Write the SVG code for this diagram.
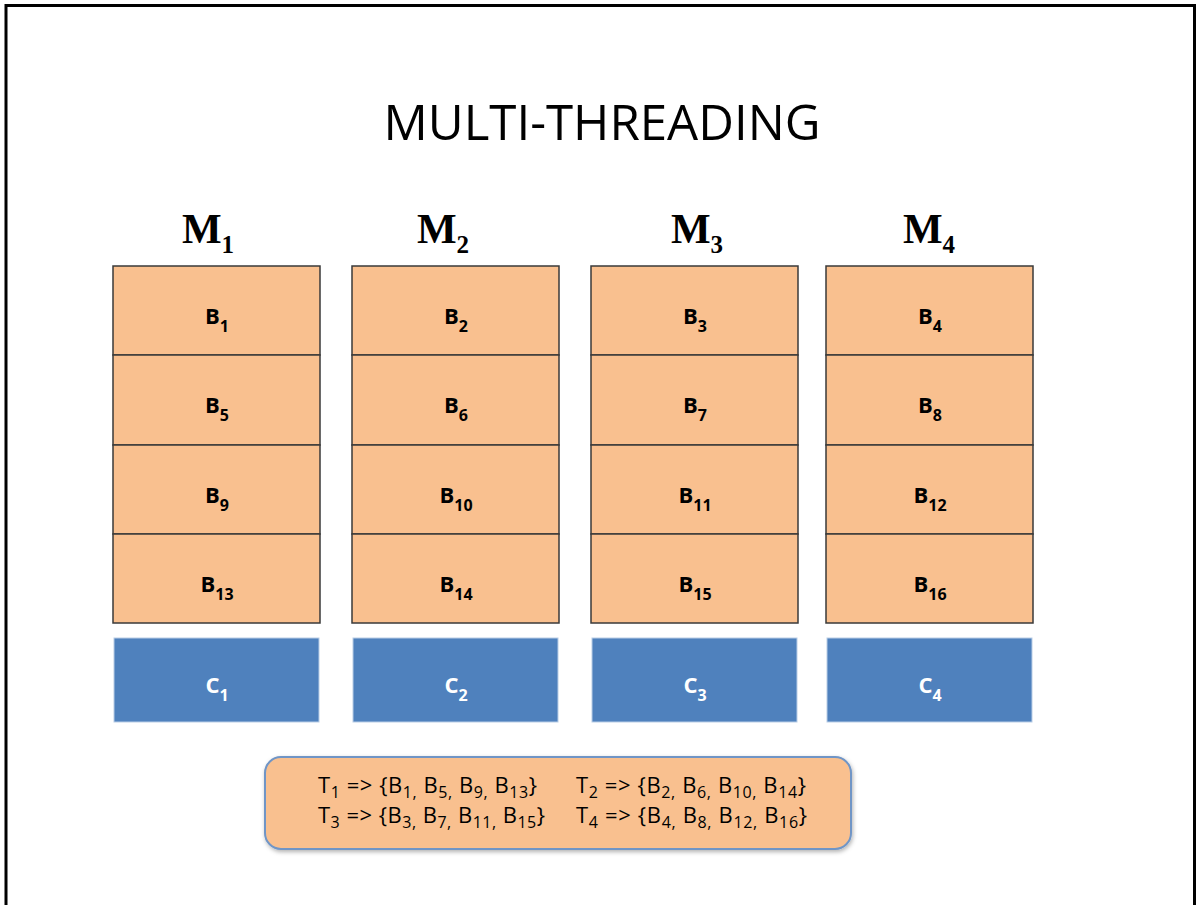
<svg xmlns="http://www.w3.org/2000/svg" width="1197" height="905" viewBox="0 0 1197 905">
  <style>
    .frame { fill: none; stroke: #000; stroke-width: 3; }
    .title { font-family: "Open Sans", "Liberation Sans", sans-serif; font-size: 50px; fill: #000; text-anchor: middle; }
    .mlab { font-family: "Liberation Serif", serif; font-weight: bold; font-size: 42px; fill: #000; text-anchor: middle; }
    .msub { font-size: 25px; }
    .blk { fill: #f9c08f; stroke: #3a3a3a; stroke-width: 1.5; }
    .core { fill: #4f81bd; stroke: #b9cde6; stroke-width: 1; }
    .blab { font-family: "Open Sans", "Liberation Sans", sans-serif; font-weight: bold; font-size: 22px; fill: #000; text-anchor: middle; }
    .clab { font-family: "Open Sans", "Liberation Sans", sans-serif; font-weight: bold; font-size: 22px; fill: #fff; text-anchor: middle; }
    .sub { font-size: 16px; }
    .legend { fill: #f9c08f; stroke: #6f95c6; stroke-width: 2; }
    .ltxt { font-family: "Open Sans", "Liberation Sans", sans-serif; font-size: 22px; fill: #000; }
    .lsub { font-size: 16px; }
  </style>
  <defs>
    <filter id="shadow" x="-5%" y="-10%" width="110%" height="130%">
      <feDropShadow dx="1" dy="2" stdDeviation="2" flood-color="#000" flood-opacity="0.3"/>
    </filter>
  </defs>

  <rect width="1197" height="905" fill="#fff"/>
  <path class="frame" d="M6 910 V5.5 H1194.5 V910"/>

  <text class="title" x="602" y="140" textLength="437" lengthAdjust="spacingAndGlyphs">MULTI-THREADING</text>

  <!-- Memory column 1 -->
  <g id="m1">
    <text class="mlab" x="208" y="243">M<tspan class="msub" dy="10">1</tspan></text>
    <rect class="blk" x="113" y="266" width="207" height="89"/>
    <rect class="blk" x="113" y="355" width="207" height="90"/>
    <rect class="blk" x="113" y="445" width="207" height="89"/>
    <rect class="blk" x="113" y="534" width="207" height="89"/>
    <text class="blab" x="217" y="324">B<tspan class="sub" dy="8">1</tspan></text>
    <text class="blab" x="217" y="413">B<tspan class="sub" dy="8">5</tspan></text>
    <text class="blab" x="217" y="503">B<tspan class="sub" dy="8">9</tspan></text>
    <text class="blab" x="217" y="592">B<tspan class="sub" dy="8">13</tspan></text>
  </g>

  <!-- Memory column 2 -->
  <g id="m2">
    <text class="mlab" x="443" y="243">M<tspan class="msub" dy="10">2</tspan></text>
    <rect class="blk" x="352" y="266" width="207" height="89"/>
    <rect class="blk" x="352" y="355" width="207" height="90"/>
    <rect class="blk" x="352" y="445" width="207" height="89"/>
    <rect class="blk" x="352" y="534" width="207" height="89"/>
    <text class="blab" x="456" y="324">B<tspan class="sub" dy="8">2</tspan></text>
    <text class="blab" x="456" y="413">B<tspan class="sub" dy="8">6</tspan></text>
    <text class="blab" x="456" y="503">B<tspan class="sub" dy="8">10</tspan></text>
    <text class="blab" x="456" y="592">B<tspan class="sub" dy="8">14</tspan></text>
  </g>

  <!-- Memory column 3 -->
  <g id="m3">
    <text class="mlab" x="697" y="243">M<tspan class="msub" dy="10">3</tspan></text>
    <rect class="blk" x="591" y="266" width="207" height="89"/>
    <rect class="blk" x="591" y="355" width="207" height="90"/>
    <rect class="blk" x="591" y="445" width="207" height="89"/>
    <rect class="blk" x="591" y="534" width="207" height="89"/>
    <text class="blab" x="695" y="324">B<tspan class="sub" dy="8">3</tspan></text>
    <text class="blab" x="695" y="413">B<tspan class="sub" dy="8">7</tspan></text>
    <text class="blab" x="695" y="503">B<tspan class="sub" dy="8">11</tspan></text>
    <text class="blab" x="695" y="592">B<tspan class="sub" dy="8">15</tspan></text>
  </g>

  <!-- Memory column 4 -->
  <g id="m4">
    <text class="mlab" x="929" y="243">M<tspan class="msub" dy="10">4</tspan></text>
    <rect class="blk" x="826" y="266" width="207" height="89"/>
    <rect class="blk" x="826" y="355" width="207" height="90"/>
    <rect class="blk" x="826" y="445" width="207" height="89"/>
    <rect class="blk" x="826" y="534" width="207" height="89"/>
    <text class="blab" x="930" y="324">B<tspan class="sub" dy="8">4</tspan></text>
    <text class="blab" x="930" y="413">B<tspan class="sub" dy="8">8</tspan></text>
    <text class="blab" x="930" y="503">B<tspan class="sub" dy="8">12</tspan></text>
    <text class="blab" x="930" y="592">B<tspan class="sub" dy="8">16</tspan></text>
  </g>

  <!-- Cores -->
  <g id="c1">
    <rect class="core" x="114" y="638" width="205" height="84"/>
    <text class="clab" x="217" y="693">C<tspan class="sub" dy="8">1</tspan></text>
  </g>
  <g id="c2">
    <rect class="core" x="353" y="638" width="205" height="84"/>
    <text class="clab" x="456" y="693">C<tspan class="sub" dy="8">2</tspan></text>
  </g>
  <g id="c3">
    <rect class="core" x="592" y="638" width="205" height="84"/>
    <text class="clab" x="695" y="693">C<tspan class="sub" dy="8">3</tspan></text>
  </g>
  <g id="c4">
    <rect class="core" x="827" y="638" width="205" height="84"/>
    <text class="clab" x="930" y="693">C<tspan class="sub" dy="8">4</tspan></text>
  </g>

  <!-- Thread assignment legend -->
  <g id="legend">
    <rect class="legend" x="265" y="757" width="586" height="92" rx="16" filter="url(#shadow)"/>
    <text class="ltxt" x="318" y="793" textLength="219">T<tspan class="lsub" dy="5">1</tspan><tspan dy="-5"> =&gt; {B</tspan><tspan class="lsub" dy="5">1,</tspan><tspan dy="-5"> B</tspan><tspan class="lsub" dy="5">5,</tspan><tspan dy="-5"> B</tspan><tspan class="lsub" dy="5">9,</tspan><tspan dy="-5"> B</tspan><tspan class="lsub" dy="5">13</tspan><tspan dy="-5">}</tspan></text>
    <text class="ltxt" x="576" y="793" textLength="230">T<tspan class="lsub" dy="5">2</tspan><tspan dy="-5"> =&gt; {B</tspan><tspan class="lsub" dy="5">2,</tspan><tspan dy="-5"> B</tspan><tspan class="lsub" dy="5">6,</tspan><tspan dy="-5"> B</tspan><tspan class="lsub" dy="5">10,</tspan><tspan dy="-5"> B</tspan><tspan class="lsub" dy="5">14</tspan><tspan dy="-5">}</tspan></text>
    <text class="ltxt" x="318" y="823" textLength="227">T<tspan class="lsub" dy="5">3</tspan><tspan dy="-5"> =&gt; {B</tspan><tspan class="lsub" dy="5">3,</tspan><tspan dy="-5"> B</tspan><tspan class="lsub" dy="5">7,</tspan><tspan dy="-5"> B</tspan><tspan class="lsub" dy="5">11,</tspan><tspan dy="-5"> B</tspan><tspan class="lsub" dy="5">15</tspan><tspan dy="-5">}</tspan></text>
    <text class="ltxt" x="576" y="823" textLength="231">T<tspan class="lsub" dy="5">4</tspan><tspan dy="-5"> =&gt; {B</tspan><tspan class="lsub" dy="5">4,</tspan><tspan dy="-5"> B</tspan><tspan class="lsub" dy="5">8,</tspan><tspan dy="-5"> B</tspan><tspan class="lsub" dy="5">12,</tspan><tspan dy="-5"> B</tspan><tspan class="lsub" dy="5">16</tspan><tspan dy="-5">}</tspan></text>
  </g>
</svg>
